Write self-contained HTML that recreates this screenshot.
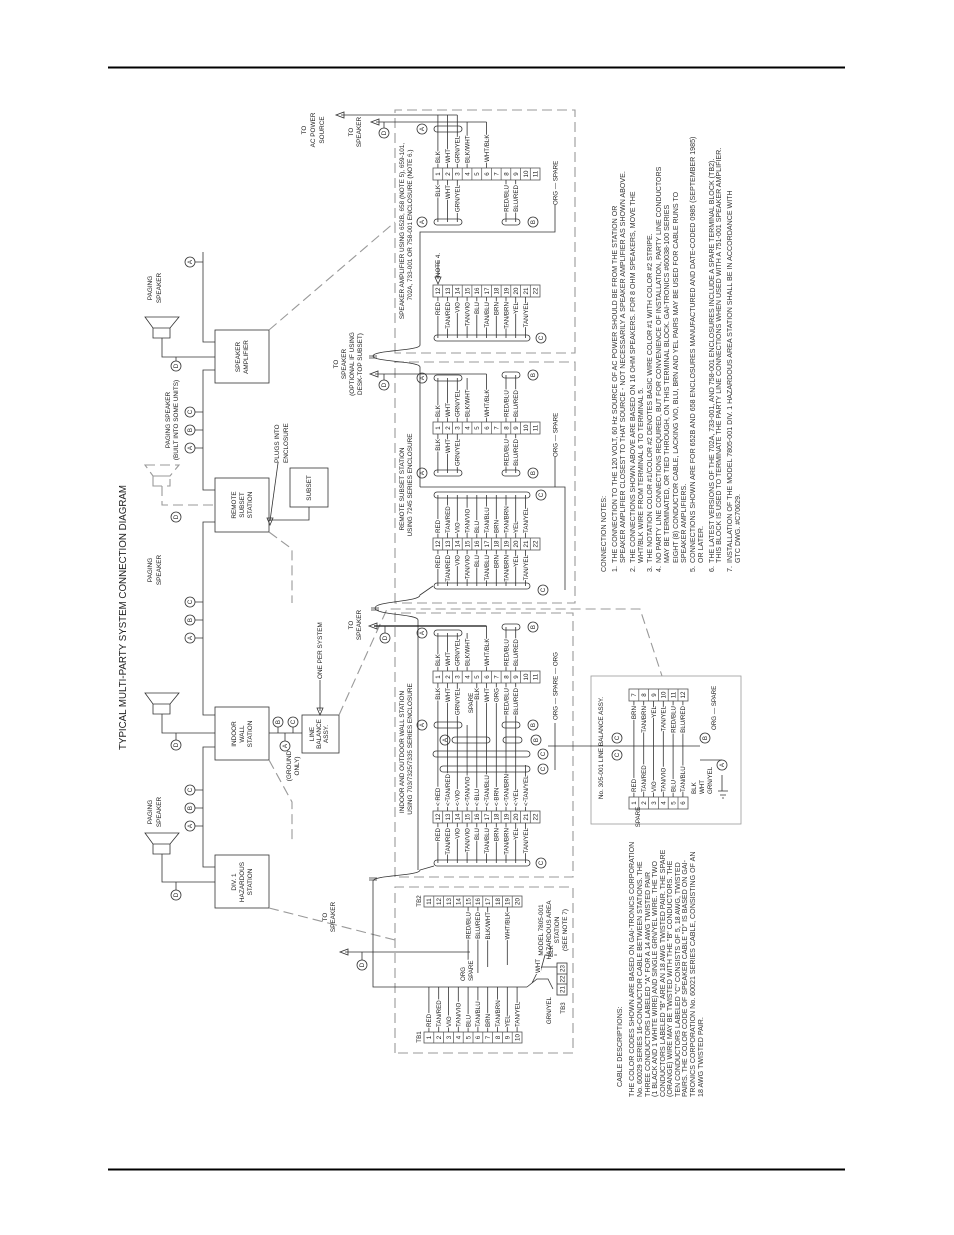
<!DOCTYPE html>
<html><head><meta charset="utf-8"><style>
html,body{margin:0;padding:0;background:#fff}
svg{display:block}
text{font-family:"Liberation Sans",sans-serif;fill:#222}
.s{font-size:6.2px}
.h{paint-order:stroke;stroke:#fff;stroke-width:2.4px;stroke-linejoin:round}
.m{text-anchor:middle}
.e{text-anchor:end}
.w path,.w line,.w rect,.w circle{stroke:#333;stroke-width:.8;fill:none}
.d{stroke:#999!important;stroke-width:1.1!important;stroke-dasharray:10 5;fill:none}
.nt{font-size:7.1px;fill:#333}
.bx{font-size:6.4px}
</style></head><body>
<svg width="954" height="1235" viewBox="0 0 954 1235" xmlns="http://www.w3.org/2000/svg">
<rect x="0" y="0" width="954" height="1235" fill="#fff"/>
<line x1="108" y1="67.5" x2="845" y2="67.5" stroke="#000" stroke-width="2"/>
<line x1="108" y1="1169.5" x2="845" y2="1169.5" stroke="#000" stroke-width="2"/>
<defs>
<g id="s11a"><rect x="0" y="433" width="12" height="107" fill="none" stroke="#555" stroke-width=".8"/><path d="M0 442.7H12M0 452.5H12M0 462.2H12M0 471.9H12M0 481.7H12M0 491.4H12M0 501.1H12M0 510.8H12M0 520.6H12M0 530.3H12" stroke="#555" stroke-width=".7"/>
<text class="s m" x="6" y="440.2">1</text><text class="s m" x="6" y="449.9">2</text><text class="s m" x="6" y="459.6">3</text><text class="s m" x="6" y="469.4">4</text><text class="s m" x="6" y="479.1">5</text><text class="s m" x="6" y="488.8">6</text><text class="s m" x="6" y="498.6">7</text><text class="s m" x="6" y="508.3">8</text><text class="s m" x="6" y="518">9</text><text class="s m" x="6" y="527.8">10</text><text class="s m" x="6" y="537.5">11</text></g>
<g id="s11b"><rect x="0" y="433" width="12" height="107" fill="none" stroke="#555" stroke-width=".8"/><path d="M0 442.7H12M0 452.5H12M0 462.2H12M0 471.9H12M0 481.7H12M0 491.4H12M0 501.1H12M0 510.8H12M0 520.6H12M0 530.3H12" stroke="#555" stroke-width=".7"/>
<text class="s m" x="6" y="440.2">12</text><text class="s m" x="6" y="449.9">13</text><text class="s m" x="6" y="459.6">14</text><text class="s m" x="6" y="469.4">15</text><text class="s m" x="6" y="479.1">16</text><text class="s m" x="6" y="488.8">17</text><text class="s m" x="6" y="498.6">18</text><text class="s m" x="6" y="508.3">19</text><text class="s m" x="6" y="518">20</text><text class="s m" x="6" y="527.8">21</text><text class="s m" x="6" y="537.5">22</text></g>
<g id="h10a"><rect x="0" y="424" width="11" height="98" fill="none" stroke="#555" stroke-width=".8"/><path d="M0 433.8H11M0 443.6H11M0 453.4H11M0 463.2H11M0 473H11M0 482.8H11M0 492.6H11M0 502.4H11M0 512.2H11" stroke="#555" stroke-width=".7"/>
<text class="s m" x="5.5" y="431.2">1</text><text class="s m" x="5.5" y="441">2</text><text class="s m" x="5.5" y="450.8">3</text><text class="s m" x="5.5" y="460.6">4</text><text class="s m" x="5.5" y="470.4">5</text><text class="s m" x="5.5" y="480.2">6</text><text class="s m" x="5.5" y="490">7</text><text class="s m" x="5.5" y="499.8">8</text><text class="s m" x="5.5" y="509.6">9</text><text class="s m" x="5.5" y="519.4">10</text></g>
<g id="h10b"><rect x="0" y="424" width="11" height="98" fill="none" stroke="#555" stroke-width=".8"/><path d="M0 433.8H11M0 443.6H11M0 453.4H11M0 463.2H11M0 473H11M0 482.8H11M0 492.6H11M0 502.4H11M0 512.2H11" stroke="#555" stroke-width=".7"/>
<text class="s m" x="5.5" y="431.2">11</text><text class="s m" x="5.5" y="441">12</text><text class="s m" x="5.5" y="450.8">13</text><text class="s m" x="5.5" y="460.6">14</text><text class="s m" x="5.5" y="470.4">15</text><text class="s m" x="5.5" y="480.2">16</text><text class="s m" x="5.5" y="490">17</text><text class="s m" x="5.5" y="499.8">18</text><text class="s m" x="5.5" y="509.6">19</text><text class="s m" x="5.5" y="519.4">20</text></g>
<g id="lba"><rect x="0" y="629" width="12" height="59" fill="none" stroke="#555" stroke-width=".8"/><path d="M0 638.8H12M0 648.6H12M0 658.4H12M0 668.2H12M0 678H12" stroke="#555" stroke-width=".7"/>
<text class="s m" x="6" y="636.2">1</text><text class="s m" x="6" y="646">2</text><text class="s m" x="6" y="655.8">3</text><text class="s m" x="6" y="665.6">4</text><text class="s m" x="6" y="675.4">5</text><text class="s m" x="6" y="685.2">6</text></g>
<g id="lbb"><rect x="0" y="629" width="12" height="59" fill="none" stroke="#555" stroke-width=".8"/><path d="M0 638.8H12M0 648.6H12M0 658.4H12M0 668.2H12M0 678H12" stroke="#555" stroke-width=".7"/>
<text class="s m" x="6" y="636.2">7</text><text class="s m" x="6" y="646">8</text><text class="s m" x="6" y="655.8">9</text><text class="s m" x="6" y="665.6">10</text><text class="s m" x="6" y="675.4">11</text><text class="s m" x="6" y="685.2">12</text></g>
</defs>

<g transform="translate(0,1235) rotate(-90)" class="w">
<text x="485" y="126" font-size="10.5" textLength="265" lengthAdjust="spacingAndGlyphs">TYPICAL MULTI-PARTY SYSTEM CONNECTION DIAGRAM</text>

<!-- LEFT BLOCK DIAGRAM -->
<rect x="852" y="215" width="53" height="54"/>
<text class="bx m" x="878" y="240">SPEAKER</text><text class="bx m" x="878" y="248">AMPLIFIER</text>
<rect x="703" y="215" width="54" height="54"/>
<text class="bx m" x="730" y="236">REMOTE</text><text class="bx m" x="730" y="244">SUBSET</text><text class="bx m" x="730" y="252">STATION</text>
<rect x="475" y="215" width="53" height="54"/>
<text class="bx m" x="501" y="236">INDOOR</text><text class="bx m" x="501" y="244">WALL</text><text class="bx m" x="501" y="252">STATION</text>
<rect x="327" y="215" width="53" height="54"/>
<text class="bx m" x="353" y="236">DIV. 1</text><text class="bx m" x="353" y="244">HAZARDOUS</text><text class="bx m" x="353" y="252">STATION</text>
<rect x="482" y="302" width="38" height="37"/>
<text class="bx m" x="501" y="314">LINE</text><text class="bx m" x="501" y="321">BALANCE</text><text class="bx m" x="501" y="328">ASSY.</text>
<rect x="728" y="290" width="39" height="38"/>
<text class="bx m" x="747" y="311">SUBSET</text>

<!-- bus -->
<path d="M983 203H893V215M865 215V203H745V215M713 215V203H520V215M488 215V203H368V215"/>
<path d="M973 195V203M823 195V203M805 195V203M787 195V203M633 195V203M615 195V203M597 195V203M445 195V203M427 195V203M409 195V203"/>
<circle cx="973" cy="190" r="5"/><text class="s m" x="973" y="192">A</text>
<circle cx="823" cy="190" r="5"/><text class="s m" x="823" y="192">C</text>
<circle cx="805" cy="190" r="5"/><text class="s m" x="805" y="192">B</text>
<circle cx="787" cy="190" r="5"/><text class="s m" x="787" y="192">A</text>
<circle cx="633" cy="190" r="5"/><text class="s m" x="633" y="192">C</text>
<circle cx="615" cy="190" r="5"/><text class="s m" x="615" y="192">B</text>
<circle cx="597" cy="190" r="5"/><text class="s m" x="597" y="192">A</text>
<circle cx="445" cy="190" r="5"/><text class="s m" x="445" y="192">C</text>
<circle cx="427" cy="190" r="5"/><text class="s m" x="427" y="192">B</text>
<circle cx="409" cy="190" r="5"/><text class="s m" x="409" y="192">A</text>

<!-- speakers -->
<path d="M918 145V179L907 170V153Z M897 153H907V170H897Z M897 162H878V215 M878 176H874"/>
<circle cx="869" cy="176" r="5"/><text class="s m" x="869" y="178">D</text>
<text class="bx m" x="947" y="152">PAGING</text><text class="bx m" x="947" y="161">SPEAKER</text>
<path class="d" d="M770 145V179L759 170V153Z M749 153H759V170H749Z M749 162H730V215"/>
<circle cx="718" cy="176" r="5"/><text class="s m" x="718" y="178">D</text>
<text class="bx m" x="815" y="170">PAGING SPEAKER</text><text class="bx m" x="815" y="178">(BUILT INTO SOME UNITS)</text>
<path d="M542 145V179L531 170V153Z M521 153H531V170H521Z M521 162H502V215 M502 176H495"/>
<circle cx="490" cy="176" r="5"/><text class="s m" x="490" y="178">D</text>
<text class="bx m" x="665" y="152">PAGING</text><text class="bx m" x="665" y="161">SPEAKER</text>
<path d="M402 145V179L391 170V153Z M381 153H391V170H381Z M381 162H353V215 M353 176H345"/>
<circle cx="340" cy="176" r="5"/><text class="s m" x="340" y="178">D</text>
<text class="bx m" x="423" y="152">PAGING</text><text class="bx m" x="423" y="161">SPEAKER</text>

<!-- subset / plugs -->
<path d="M728 309H715V269"/>
<path d="M772 278L714 270"/><path d="M710 270L717 267L717 273Z" fill="#333"/>
<text class="bx" x="772" y="279">PLUGS INTO</text><text class="bx" x="772" y="288">ENCLOSURE</text>

<!-- line balance connection -->
<path d="M502 269V302M502 278H508M502 293H508M502 285H494"/>
<circle cx="513" cy="278" r="5"/><text class="s m" x="513" y="280">B</text>
<circle cx="513" cy="293" r="5"/><text class="s m" x="513" y="295">C</text>
<circle cx="489" cy="285" r="5"/><text class="s m" x="489" y="287">A</text>
<text class="bx m" x="469" y="291">(GROUND</text><text class="bx m" x="469" y="299">ONLY)</text>
<text class="bx" x="556" y="322">ONE PER SYSTEM</text>
<path d="M555 320H524"/><path d="M520 320L527 317L527 323Z" fill="#333"/>

<!-- dashed connectors -->
<path class="d" d="M905 269L1013 395"/>
<path class="d" d="M703 269L686 292H632"/>
<path class="d" d="M475 269L433 292H395"/>
<path class="d" d="M327 269L295 395"/>
<path class="d" d="M520 339L626 387V640L559 662"/>

<!-- STATION BOXES -->
<rect class="d" x="882" y="395" width="243" height="180"/>
<rect class="d" x="632" y="395" width="241" height="180"/>
<rect class="d" x="358" y="395" width="264" height="178"/>
<rect class="d" x="182" y="395" width="166" height="178"/>
<rect x="411" y="591" width="148" height="150" style="stroke:#999"/>

<!-- SPEAKER AMPLIFIER -->
<text class="bx m" x="1004" y="404">SPEAKER AMPLIFIER USING 652B, 658 (NOTE 5), 659-101,</text>
<text class="bx m" x="1010" y="412">702A, 733-001 OR 758-001 ENCLOSURE (NOTE 6.)</text>
<path d="M1067 437.9H1120M1067 447.6H1120M1067 457.3H1120M1067 467.1H1113M1067 486.5H1113M1120 341V457.3M1113 376V486.5"/>
<path d="M1120 336L1117 344L1123 344Z M1113 371L1110 379L1116 379Z" fill="#333"/>
<text class="bx m" x="1105" y="306">TO</text><text class="bx m" x="1105" y="315">AC POWER</text><text class="bx m" x="1105" y="324">SOURCE</text>
<text class="bx m" x="1103" y="353">TO</text><text class="bx m" x="1103" y="361">SPEAKER</text>
<circle cx="1102" cy="384" r="5"/><text class="s m" x="1102" y="386">D</text><path d="M1107 384H1113"/>
<rect x="1103" y="434" width="6" height="28" rx="3"/><circle cx="1106" cy="422" r="5"/><text class="s m" x="1106" y="424">A</text>
<use href="#s11a" x="1055"/>
<text class="s h" x="1072" y="440.2">BLK</text><text class="s h" x="1072" y="449.9">WHT</text><text class="s h" x="1072" y="459.6">GRN/YEL</text><text class="s h" x="1072" y="469.4">BLK/WHT</text><text class="s h" x="1073" y="488.8">WHT/BLK</text>
<path d="M1055 437.9H1013M1055 447.6H1013M1055 457.3H1013M1055 506H1013M1055 515.7H1013"/>
<text class="s h e" x="1050" y="440.2">BLK</text><text class="s h e" x="1050" y="449.9">WHT</text><text class="s h e" x="1050" y="459.6">GRN/YEL</text><text class="s h e" x="1050" y="508.3">RED/BLU</text><text class="s h e" x="1050" y="518">BLU/RED</text>
<rect x="1010" y="434" width="6" height="28" rx="3"/><circle cx="1013" cy="422" r="5"/><text class="s m" x="1013" y="424">A</text>
<rect x="1010" y="502" width="6" height="18" rx="3"/><circle cx="1013" cy="533" r="5"/><text class="s m" x="1013" y="535">B</text>
<text class="s" x="1030" y="557.5">ORG — SPARE</text>
<path d="M1030 555H1003V420H890"/>
<text class="s" x="958" y="440">NOTE 4.</text><path d="M975 438H956"/><path d="M951 438L958 435L958 441Z" fill="#333"/>
<use href="#s11b" x="938"/>
<path d="M938 437.9H897M938 447.6H897M938 457.3H897M938 467.1H897M938 476.8H897M938 486.5H897M938 496.3H897M938 506H897M938 515.7H897M938 525.5H897"/>
<text class="s h e" x="933" y="440.2">RED</text><text class="s h e" x="933" y="449.9">TAN/RED</text><text class="s h e" x="933" y="459.6">VIO</text><text class="s h e" x="933" y="469.4">TAN/VIO</text><text class="s h e" x="933" y="479.1">BLU</text><text class="s h e" x="933" y="488.8">TAN/BLU</text><text class="s h e" x="933" y="498.6">BRN</text><text class="s h e" x="933" y="508.3">TAN/BRN</text><text class="s h e" x="933" y="518">YEL</text><text class="s h e" x="933" y="527.8">TAN/YEL</text>
<rect x="894" y="434" width="6" height="96" rx="3"/><circle cx="897" cy="541" r="5"/><text class="s m" x="897" y="543">C</text>
<path d="M890 420C884 420 885 373 879 373C873 373 874 420 868 420"/>
<path d="M879 369V377M877 369V377"/>

<!-- REMOTE SUBSET -->
<text class="bx m" x="746" y="404">REMOTE SUBSET STATION</text>
<text class="bx m" x="750" y="412">USING 7245 SERIES ENCLOSURE</text>
<text class="bx m" x="871" y="338">TO</text><text class="bx m" x="871" y="346">SPEAKER</text><text class="bx m" x="871" y="354">(OPTIONAL IF USING</text><text class="bx m" x="871" y="362">DESK-TOP SUBSET)</text>
<path d="M861 375V486.5"/><path d="M861 370L858 378L864 378Z" fill="#333"/>
<circle cx="850" cy="384" r="5"/><text class="s m" x="850" y="386">D</text><path d="M855 384H861"/>
<path d="M813 437.9H857M813 447.6H857M813 457.3H857M813 467.1H857M813 486.5H861M813 506H860M813 515.7H860"/>
<rect x="854" y="434" width="6" height="28" rx="3"/><circle cx="857" cy="422" r="5"/><text class="s m" x="857" y="424">A</text>
<rect x="857" y="502" width="6" height="18" rx="3"/><circle cx="860" cy="533" r="5"/><text class="s m" x="860" y="535">B</text>
<use href="#s11a" x="801"/>
<text class="s h" x="818" y="440.2">BLK</text><text class="s h" x="818" y="449.9">WHT</text><text class="s h" x="818" y="459.6">GRN/YEL</text><text class="s h" x="818" y="469.4">BLK/WHT</text><text class="s h" x="818" y="488.8">WHT/BLK</text><text class="s h" x="818" y="508.3">RED/BLU</text><text class="s h" x="818" y="518">BLU/RED</text>
<path d="M801 437.9H762M801 447.6H762M801 457.3H762M801 506H762M801 515.7H762"/>
<text class="s h e" x="796" y="440.2">BLK</text><text class="s h e" x="796" y="449.9">WHT</text><text class="s h e" x="796" y="459.6">GRN/YEL</text><text class="s h e" x="796" y="508.3">RED/BLU</text><text class="s h e" x="796" y="518">BLU/RED</text>
<rect x="759" y="434" width="6" height="28" rx="3"/><circle cx="762" cy="422" r="5"/><text class="s m" x="762" y="424">A</text>
<rect x="759" y="502" width="6" height="18" rx="3"/><circle cx="762" cy="533" r="5"/><text class="s m" x="762" y="535">B</text>
<text class="s" x="778" y="557.5">ORG — SPARE</text>
<path d="M778 555H748V420M748 555V565H645M868 420H748"/>
<path d="M697 437.9H740M697 447.6H740M697 457.3H740M697 467.1H740M697 476.8H740M697 486.5H740M697 496.3H740M697 506H740M697 515.7H740M697 525.5H740"/>
<rect x="737" y="434" width="6" height="96" rx="3"/><circle cx="740" cy="541" r="5"/><text class="s m" x="740" y="543">C</text>
<use href="#s11b" x="685"/>
<text class="s h" x="702" y="440.2">RED</text><text class="s h" x="702" y="449.9">TAN/RED</text><text class="s h" x="702" y="459.6">VIO</text><text class="s h" x="702" y="469.4">TAN/VIO</text><text class="s h" x="702" y="479.1">BLU</text><text class="s h" x="702" y="488.8">TAN/BLU</text><text class="s h" x="702" y="498.6">BRN</text><text class="s h" x="702" y="508.3">TAN/BRN</text><text class="s h" x="702" y="518">YEL</text><text class="s h" x="702" y="527.8">TAN/YEL</text>
<path d="M685 437.9H649M685 447.6H649M685 457.3H649M685 467.1H649M685 476.8H649M685 486.5H649M685 496.3H649M685 506H649M685 515.7H649M685 525.5H649"/>
<text class="s h e" x="680" y="440.2">RED</text><text class="s h e" x="680" y="449.9">TAN/RED</text><text class="s h e" x="680" y="459.6">VIO</text><text class="s h e" x="680" y="469.4">TAN/VIO</text><text class="s h e" x="680" y="479.1">BLU</text><text class="s h e" x="680" y="488.8">TAN/BLU</text><text class="s h e" x="680" y="498.6">BRN</text><text class="s h e" x="680" y="508.3">TAN/BRN</text><text class="s h e" x="680" y="518">YEL</text><text class="s h e" x="680" y="527.8">TAN/YEL</text>
<rect x="646" y="434" width="6" height="96" rx="3"/><circle cx="645" cy="543" r="5"/><text class="s m" x="645" y="545">C</text>
<path d="M649 433L640 420C633 420 634 375 627 375C620 375 621 418 615 418H365"/>
<path d="M627 371V379M625 371V379"/>

<!-- INDOOR WALL -->
<text class="bx m" x="483" y="404">INDOOR AND OUTDOOR WALL STATION</text>
<text class="bx m" x="486" y="412">USING 703/7325/7335 SERIES ENCLOSURE</text>
<text class="bx m" x="610" y="353">TO</text><text class="bx m" x="610" y="361">SPEAKER</text>
<path d="M609 374V486.5" style="stroke:#111;stroke-width:1.3"/><path d="M609 369L606 377L612 377Z" fill="#111"/>
<circle cx="597" cy="385" r="5"/><text class="s m" x="597" y="387">D</text><path d="M602 385H609"/>
<path d="M564 437.9H602M564 447.6H602M564 457.3H602M564 467.1H602M564 486.5H609M564 506H608M564 515.7H608"/>
<rect x="599" y="434" width="6" height="28" rx="3"/><circle cx="602" cy="422" r="5"/><text class="s m" x="602" y="424">A</text>
<rect x="605" y="502" width="6" height="18" rx="3"/><circle cx="608" cy="533" r="5"/><text class="s m" x="608" y="535">B</text>
<use href="#s11a" x="552"/>
<text class="s h" x="569" y="440.2">BLK</text><text class="s h" x="569" y="449.9">WHT</text><text class="s h" x="569" y="459.6">GRN/YEL</text><text class="s h" x="569" y="469.4">BLK/WHT</text><text class="s h" x="569" y="488.8">WHT/BLK</text><text class="s h" x="569" y="508.3">RED/BLU</text><text class="s h" x="569" y="518">BLU/RED</text>
<path d="M552 437.9H424M552 447.6H424M552 457.3H424M510 467.1H424M552 476.8H424M552 486.5H424M552 496.3H424M552 506H424M552 515.7H424M470 525.5H424"/>
<text class="s h e" x="547" y="440.2">BLK</text><text class="s h e" x="547" y="449.9">WHT</text><text class="s h e" x="547" y="459.6">GRN/YEL</text><text class="s h e" x="547" y="479.1">BLK</text><text class="s h e" x="547" y="488.8">WHT</text><text class="s h e" x="547" y="498.6">ORG</text><text class="s h e" x="547" y="508.3">RED/BLU</text><text class="s h e" x="547" y="518">BLU/RED</text>
<text class="s h m" x="532" y="473">SPARE</text>
<rect x="507" y="434" width="6" height="28" rx="3"/><circle cx="510" cy="422" r="5"/><text class="s m" x="510" y="424">A</text>
<rect x="507" y="502" width="6" height="18" rx="3"/><circle cx="510" cy="533" r="5"/><text class="s m" x="510" y="535">B</text>
<rect x="492" y="452" width="6" height="38" rx="3"/><circle cx="495" cy="445" r="5"/><text class="s m" x="495" y="447">A</text>
<rect x="492" y="503" width="6" height="19" rx="3"/><circle cx="495" cy="536" r="5"/><text class="s m" x="495" y="538">B</text>
<rect x="478" y="433" width="6" height="97" rx="3"/><circle cx="481" cy="543" r="5"/><text class="s m" x="481" y="545">C</text>
<rect x="463" y="440" width="6" height="90" rx="3"/><circle cx="466" cy="543" r="5"/><text class="s m" x="466" y="545">C</text>
<text class="s" x="515" y="557.5">ORG — SPARE — ORG</text>
<path d="M512 555H465M489 548V700"/>
<use href="#s11b" x="412"/>
<text class="s h" x="429" y="440.2">&lt; RED</text><text class="s h" x="429" y="449.9">&lt; TAN/RED</text><text class="s h" x="429" y="459.6">&lt; VIO</text><text class="s h" x="429" y="469.4">&lt; TAN/VIO</text><text class="s h" x="429" y="479.1">&lt; BLU</text><text class="s h" x="429" y="488.8">&lt; TAN/BLU</text><text class="s h" x="429" y="498.6">&lt; BRN</text><text class="s h" x="429" y="508.3">&lt; TAN/BRN</text><text class="s h" x="429" y="518">&lt; YEL</text><text class="s h" x="429" y="527.8">&lt; TAN/YEL</text>
<path d="M412 437.9H372M412 447.6H372M412 457.3H372M412 467.1H372M412 476.8H372M412 486.5H372M412 496.3H372M412 506H372M412 515.7H372M412 525.5H372"/>
<text class="s h e" x="407" y="440.2">RED</text><text class="s h e" x="407" y="449.9">TAN/RED</text><text class="s h e" x="407" y="459.6">VIO</text><text class="s h e" x="407" y="469.4">TAN/VIO</text><text class="s h e" x="407" y="479.1">BLU</text><text class="s h e" x="407" y="488.8">TAN/BLU</text><text class="s h e" x="407" y="498.6">BRN</text><text class="s h e" x="407" y="508.3">TAN/BRN</text><text class="s h e" x="407" y="518">YEL</text><text class="s h e" x="407" y="527.8">TAN/YEL</text>
<rect x="369" y="434" width="6" height="96" rx="3"/><circle cx="372" cy="541" r="5"/><text class="s m" x="372" y="543">C</text>
<path d="M369 434L365 420C359 420 360 373 354 373H248V527"/>
<path d="M357 369V377M355 369V377"/>

<!-- LINE BALANCE -->
<text class="bx m" x="487" y="603">No. 305-001 LINE BALANCE ASSY.</text>
<use href="#lbb" x="534"/>
<use href="#lba" x="426"/>
<path d="M534 633.9H438M534 643.7H438M534 653.5H438M534 663.3H438M534 673.1H438M534 682.9H438"/>
<text class="s h e" x="529" y="636.2">BRN</text><text class="s h e" x="529" y="646">TAN/BRN</text><text class="s h e" x="529" y="655.8">YEL</text><text class="s h e" x="529" y="665.6">TAN/YEL</text><text class="s h e" x="529" y="675.4">RED/BLU</text><text class="s h e" x="529" y="685.2">BLU/RED</text>
<text class="s h" x="443" y="636.2">RED</text><text class="s h" x="443" y="646">TAN/RED</text><text class="s h" x="443" y="655.8">VIO</text><text class="s h" x="443" y="665.6">TAN/VIO</text><text class="s h" x="443" y="675.4">BLU</text><text class="s h" x="443" y="685.2">TAN/BLU</text>
<circle cx="497" cy="617" r="5"/><text class="s m" x="497" y="619">C</text>
<circle cx="480" cy="617" r="5"/><text class="s m" x="480" y="619">C</text>
<circle cx="497" cy="705" r="5"/><text class="s m" x="497" y="707">B</text>
<circle cx="470" cy="722" r="5"/><text class="s m" x="470" y="724">A</text>
<path d="M475 700V722"/>
<text class="s" x="505" y="716">ORG — SPARE</text>
<text class="s" x="441" y="696">BLK</text><text class="s" x="441" y="704">WHT</text><text class="s" x="441" y="712">GRN/YEL</text>
<text class="s m" x="418" y="640">SPARE</text>
<path d="M444 718V728M440 720V726M437 722V724M444 722H460"/>

<!-- HAZARDOUS -->
<use href="#h10b" x="328"/>
<text class="s m" x="334" y="421">TB2</text>
<path d="M328 468.1H262M328 477.9H262M328 487.7H268M328 507.3H270"/>
<text class="s h e" x="323" y="470.4">RED/BLU</text><text class="s h e" x="323" y="480.2">BLU/RED</text><text class="s h e" x="323" y="490">BLK/WHT</text><text class="s h e" x="323" y="509.6">WHT/BLK</text>
<use href="#h10a" x="192"/>
<text class="s m" x="198" y="421">TB1</text>
<path d="M203 428.9H248M203 438.7H248M203 448.5H248M203 458.3H248M203 468.1H248M203 477.9H248M203 487.7H248M203 497.5H248M203 507.3H248M203 517.1H248"/>
<text class="s h" x="208" y="431.2">RED</text><text class="s h" x="208" y="441">TAN/RED</text><text class="s h" x="208" y="450.8">VIO</text><text class="s h" x="208" y="460.6">TAN/VIO</text><text class="s h" x="208" y="470.4">BLU</text><text class="s h" x="208" y="480.2">TAN/BLU</text><text class="s h" x="208" y="490">BRN</text><text class="s h" x="208" y="499.8">TAN/BRN</text><text class="s h" x="208" y="509.6">YEL</text><text class="s h" x="208" y="519.4">TAN/YEL</text>
<text class="s h" x="254" y="465">ORG</text><text class="s h" x="254" y="473">SPARE</text>
<rect x="240" y="557" width="32" height="10"/><path d="M251 557V567M261 557V567"/>
<text class="s m" x="245.5" y="564.5">21</text><text class="s m" x="256" y="564.5">22</text><text class="s m" x="266.5" y="564.5">23</text>
<text class="s m" x="227" y="565">TB3</text>
<path d="M248 527L256 537V548L246 553M252 532L268 540V557M262 540L280 545V557"/>
<text class="s h e" x="238" y="551">GRN/YEL</text><text class="s h" x="262" y="540">WHT</text><text class="s h" x="278" y="553">BLK</text>
<text class="bx m" x="305" y="543">MODEL 7805-001</text><text class="bx m" x="305" y="551">HAZARDOUS AREA</text><text class="bx m" x="305" y="559">STATION</text><text class="bx m" x="305" y="567">(SEE NOTE 7)</text>
<text class="bx m" x="318" y="327">TO</text><text class="bx m" x="318" y="335">SPEAKER</text>
<path d="M283 345V470"/><path d="M283 340L280 348L286 348Z" fill="#333"/>
<circle cx="270" cy="362" r="5"/><text class="s m" x="270" y="364">D</text><path d="M275 362H283"/>

<!-- NOTES -->
<text class="nt" x="663" y="606">CONNECTION NOTES:</text>
<text class="nt" x="663" y="617">1.</text><text class="nt" x="672" y="617">THE CONNECTION TO THE 120 VOLT, 60 Hz SOURCE OF AC POWER SHOULD BE FROM THE STATION OR</text>
<text class="nt" x="672" y="625">SPEAKER AMPLIFIER CLOSEST TO THAT SOURCE - NOT NECESSARILY A SPEAKER AMPLIFIER AS SHOWN ABOVE.</text>
<text class="nt" x="663" y="635">2.</text><text class="nt" x="672" y="635">THE CONNECTIONS SHOWN ABOVE ARE BASED ON 16 OHM SPEAKERS. FOR 8 OHM SPEAKERS, MOVE THE</text>
<text class="nt" x="672" y="643">WHT/BLK WIRE FROM TERMINAL 6 TO TERMINAL 5.</text>
<text class="nt" x="663" y="652">3.</text><text class="nt" x="672" y="652">THE NOTATION COLOR #1/COLOR #2 DENOTES BASIC WIRE COLOR #1 WITH COLOR #2 STRIPE.</text>
<text class="nt" x="663" y="661">4.</text><text class="nt" x="672" y="661">NO PARTY LINE CONNECTIONS REQUIRED, BUT FOR CONVENIENCE OF INSTALLATION, PARTY LINE CONDUCTORS</text>
<text class="nt" x="672" y="669">MAY BE TERMINATED, OR TIED THROUGH, ON THIS TERMINAL BLOCK. GAI-TRONICS #60038-100 SERIES</text>
<text class="nt" x="672" y="678">EIGHT (8) CONDUCTOR CABLE, LACKING VIO, BLU, BRN AND YEL PAIRS MAY BE USED FOR CABLE RUNS TO</text>
<text class="nt" x="672" y="686">SPEAKER AMPLIFIERS.</text>
<text class="nt" x="663" y="695">5.</text><text class="nt" x="672" y="695">CONNECTIONS SHOWN ARE FOR 652B AND 658 ENCLOSURES MANUFACTURED AND DATE-CODED 0985 (SEPTEMBER 1985)</text>
<text class="nt" x="672" y="703">OR LATER.</text>
<text class="nt" x="663" y="714">6.</text><text class="nt" x="672" y="714">THE LATEST VERSIONS OF THE 702A, 733-001, AND 758-001 ENCLOSURES INCLUDE A SPARE TERMINAL BLOCK (TB2).</text>
<text class="nt" x="672" y="721">THIS BLOCK IS USED TO TERMINATE THE PARTY LINE CONNECTIONS WHEN USED WITH A 751-001 SPEAKER AMPLIFIER.</text>
<text class="nt" x="663" y="732">7.</text><text class="nt" x="672" y="732">INSTALLATION OF THE MODEL 7805-001 DIV. 1 HAZARDOUS AREA STATION SHALL BE IN ACCORDANCE WITH</text>
<text class="nt" x="672" y="740">GTC DWG. #C70629.</text>

<!-- CABLE DESCRIPTIONS -->
<text class="nt" x="148" y="622">CABLE DESCRIPTIONS:</text>
<text class="nt" x="138" y="634">THE COLOR CODES SHOWN ARE BASED ON GAI-TRONICS CORPORATION</text>
<text class="nt" x="138" y="642">No. 60029 SERIES 16-CONDUCTOR CABLE BETWEEN STATIONS. THE</text>
<text class="nt" x="138" y="650">THREE CONDUCTORS LABELED "A" FOR A 14 AWG TWISTED PAIR</text>
<text class="nt" x="138" y="657">(1 BLACK AND 1 WHITE WIRE) AND SINGLE GRN/YEL WIRE. THE TWO</text>
<text class="nt" x="138" y="665">CONDUCTORS LABELED "B" ARE AN 18 AWG TWISTED PAIR. THE SPARE</text>
<text class="nt" x="138" y="672">(ORANGE) WIRE MAY BE TWISTED WITH THE "B" CONDUCTORS. THE</text>
<text class="nt" x="138" y="680">TEN CONDUCTORS LABELED "C" CONSISTS OF 5, 18 AWG, TWISTED</text>
<text class="nt" x="138" y="687">PAIRS. THE COLOR CODE OF SPEAKER CABLE "D" IS BASED ON GAI-</text>
<text class="nt" x="138" y="695">TRONICS CORPORATION No. 60021 SERIES CABLE, CONSISTING OF AN</text>
<text class="nt" x="138" y="703">18 AWG TWISTED PAIR.</text>
</g>
</svg>
</body></html>
